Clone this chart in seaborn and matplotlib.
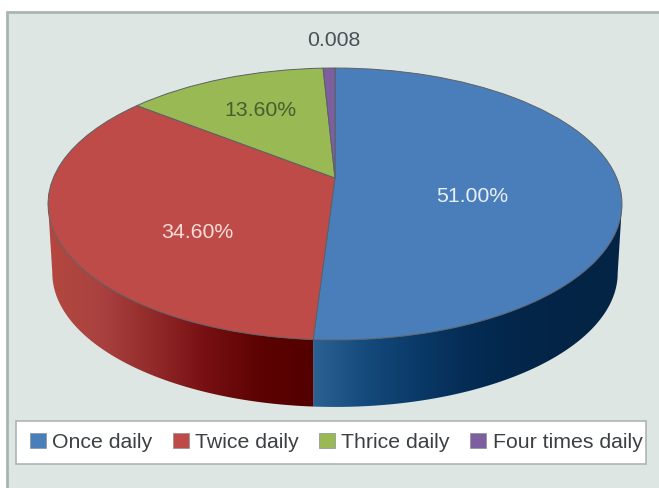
import numpy as np
import matplotlib
matplotlib.use("Agg")
import matplotlib.pyplot as plt
from matplotlib.patches import Rectangle, Polygon
from matplotlib.transforms import Transform
import seaborn as sns

categories = ["Once daily", "Twice daily", "Thrice daily", "Four times daily"]
shares = [51.0, 34.6, 13.6, 0.8]
slice_labels = ["51.00%", "34.60%", "13.60%", "0.008"]

colors = ["#4a7ebb", "#be4b48", "#98b954", "#7d5fa0"]
blue_side = ["#2b6294", "#154a7c", "#0a3a68", "#052c54", "#03264a", "#032445", "#032445"]
red_side = ["#b5483f", "#a94240", "#922a2a", "#760f12", "#5c0202", "#520000"]

sns.set_theme(style="white")
plt.rcParams["font.family"] = ["Liberation Sans", "DejaVu Sans"]

# perspective of the tilted disc, in pixels of the figure
APEX_X, APEX_Y, A, B, K = 335.0, 178.0, 281.7, 131.0, 0.1912
DROP, SHRINK = 69.4, 0.985


def project(u, v, lower=False):
    w = 1 + K * v
    x, y = A * u / w, B * v / w
    if lower:
        return APEX_X + SHRINK * x, APEX_Y + DROP - SHRINK * y
    return APEX_X + x, APEX_Y - y


class Tilt(Transform):
    input_dims = output_dims = 2
    is_affine = False
    has_inverse = False

    def transform_non_affine(self, values):
        values = np.asarray(values, float)
        x, y = project(values[:, 0], values[:, 1])
        return np.column_stack([x, y])


fig = plt.figure(figsize=(6.59, 4.88), dpi=100, facecolor="white")
ax = fig.add_axes([0, 0, 1, 1])

wedges, _ = ax.pie(shares, colors=colors, startangle=90, counterclock=False,
                   radius=1, wedgeprops=dict(edgecolor="#5c6064", linewidth=0.7))
tilt = Tilt()
for w in wedges:
    w.set_transform(tilt + ax.transData)
    w.set_zorder(5)
    w.set_clip_on(False)

ax.add_patch(Rectangle((7, 12), 660, 490, facecolor="#dde6e3",
                       edgecolor="#a9b5b0", linewidth=2, zorder=0))


def side(t_from, t_to, stops, x_from, x_to):
    ramp = np.array(sns.blend_palette(stops, 256))[None, :, :3]
    th = np.radians(np.linspace(t_from, t_to, 260))
    u, v = np.cos(th), np.sin(th)
    x0, y0 = project(u, v)
    x1, y1 = project(u, v, lower=True)
    outline = np.column_stack([np.r_[x0, x1[::-1]], np.r_[y0, y1[::-1]]])
    clip = Polygon(outline, closed=True, transform=ax.transData)
    im = ax.imshow(ramp, extent=(x_from, x_to, 488, 0), aspect="auto",
                   interpolation="bilinear", zorder=2)
    im.set_clip_path(clip)


boundary = 90 - 3.6 * shares[0]
widest = np.degrees(np.arcsin(-K))
side(boundary, widest, blue_side, 312, 626)
side(-180 - widest, boundary, red_side, 45, 316)

ax.set_aspect("auto")
ax.set_xlim(0, 659)
ax.set_ylim(488, 0)
ax.axis("off")

text_px = [(472, 196), (197, 232), (260, 110), (334, 41)]
text_col = ["#eaf0f7", "#f7dcd8", "#44602f", "#4a5258"]
for s, (x, y), c in zip(slice_labels, text_px, text_col):
    ax.text(x, y, s, color=c, fontsize=15.3, ha="center", va="center", zorder=6)

ax.add_patch(Rectangle((16, 421), 630, 43, facecolor="white",
                       edgecolor="#aeb5b3", linewidth=1.2, zorder=6.5))
leg = ax.legend(wedges, categories, ncol=4, loc="center left",
                bbox_to_anchor=(30, 442.5), bbox_transform=ax.transData,
                fontsize=15.3, frameon=False, labelcolor="#3c4043",
                handlelength=0.75, handleheight=0.75, handletextpad=0.3,
                columnspacing=0.96, borderpad=0, borderaxespad=0)
leg.set_zorder(7)
for h in leg.legend_handles:
    h.set_edgecolor("#8a8f94")
    h.set_linewidth(0.5)

fig.savefig("out.png", dpi=100, facecolor="white")
